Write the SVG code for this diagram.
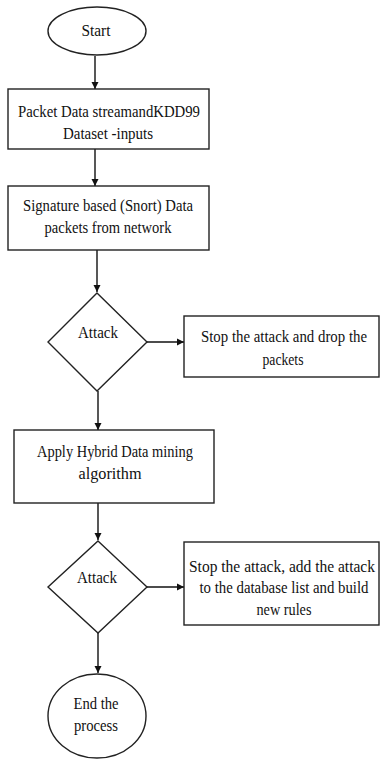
<svg xmlns="http://www.w3.org/2000/svg" width="381" height="760" viewBox="0 0 381 760">
<style>
.s{fill:#fff;stroke:#222;stroke-width:1.4}
.t{font-family:"Liberation Serif","Times New Roman",serif;font-size:16px;fill:#111;text-anchor:middle}
.c{fill:none;stroke:#111;stroke-width:1.4;marker-end:url(#a)}
</style>
<defs>
<marker id="a" markerWidth="8" markerHeight="8" refX="7" refY="4" orient="auto" markerUnits="userSpaceOnUse">
<path d="M0,0.5 L7,4 L0,7.5 Z" fill="#111"/>
</marker>
</defs>
<rect width="381" height="760" fill="#fff"/>
<g id="connectors">
<path class="c" d="M95,56 V89"/>
<path class="c" d="M95,149 V186"/>
<path class="c" d="M97,250 V292"/>
<path class="c" d="M147,342 H184"/>
<path class="c" d="M98,391 V430"/>
<path class="c" d="M98,503 V540"/>
<path class="c" d="M147,587 H184"/>
<path class="c" d="M98,633 V673"/>
</g>
<g id="start">
<ellipse class="s" cx="97" cy="31" rx="49" ry="24"/>
<text class="t" x="96" y="36" textLength="29" lengthAdjust="spacingAndGlyphs">Start</text>
</g>
<g id="inputs">
<rect class="s" x="8" y="89" width="201" height="60"/>
<text class="t" x="109" y="117" textLength="182" lengthAdjust="spacingAndGlyphs">Packet Data streamandKDD99</text>
<text class="t" x="108" y="139" textLength="90" lengthAdjust="spacingAndGlyphs">Dataset -inputs</text>
</g>
<g id="snort">
<rect class="s" x="8" y="186" width="201" height="64"/>
<text class="t" x="108" y="211" textLength="170" lengthAdjust="spacingAndGlyphs">Signature based (Snort) Data</text>
<text class="t" x="108" y="233" textLength="127" lengthAdjust="spacingAndGlyphs">packets from network</text>
</g>
<g id="attack1">
<polygon class="s" points="97,293 147,342 97,391 48,342"/>
<text class="t" x="98" y="338" textLength="40" lengthAdjust="spacingAndGlyphs">Attack</text>
</g>
<g id="drop">
<rect class="s" x="184" y="316" width="195" height="61"/>
<text class="t" x="284" y="342" textLength="166" lengthAdjust="spacingAndGlyphs">Stop the attack and drop the</text>
<text class="t" x="283" y="365" textLength="41" lengthAdjust="spacingAndGlyphs">packets</text>
</g>
<g id="hybrid">
<rect class="s" x="14" y="430" width="200" height="73"/>
<text class="t" x="115" y="457" textLength="156" lengthAdjust="spacingAndGlyphs">Apply Hybrid Data mining</text>
<text class="t" x="110" y="479" textLength="63" lengthAdjust="spacingAndGlyphs">algorithm</text>
</g>
<g id="attack2">
<polygon class="s" points="98,541 147,587 98,633 48,587"/>
<text class="t" x="97" y="583" textLength="40" lengthAdjust="spacingAndGlyphs">Attack</text>
</g>
<g id="rules">
<rect class="s" x="184" y="542" width="195" height="83"/>
<text class="t" x="282" y="572" textLength="186" lengthAdjust="spacingAndGlyphs">Stop the attack, add the attack</text>
<text class="t" x="284" y="593" textLength="169" lengthAdjust="spacingAndGlyphs">to the database list and build</text>
<text class="t" x="284" y="615" textLength="55" lengthAdjust="spacingAndGlyphs">new rules</text>
</g>
<g id="end">
<ellipse class="s" cx="97" cy="716" rx="49" ry="42"/>
<text class="t" x="96" y="709" textLength="45" lengthAdjust="spacingAndGlyphs">End the</text>
<text class="t" x="96" y="731" textLength="44" lengthAdjust="spacingAndGlyphs">process</text>
</g>
</svg>
